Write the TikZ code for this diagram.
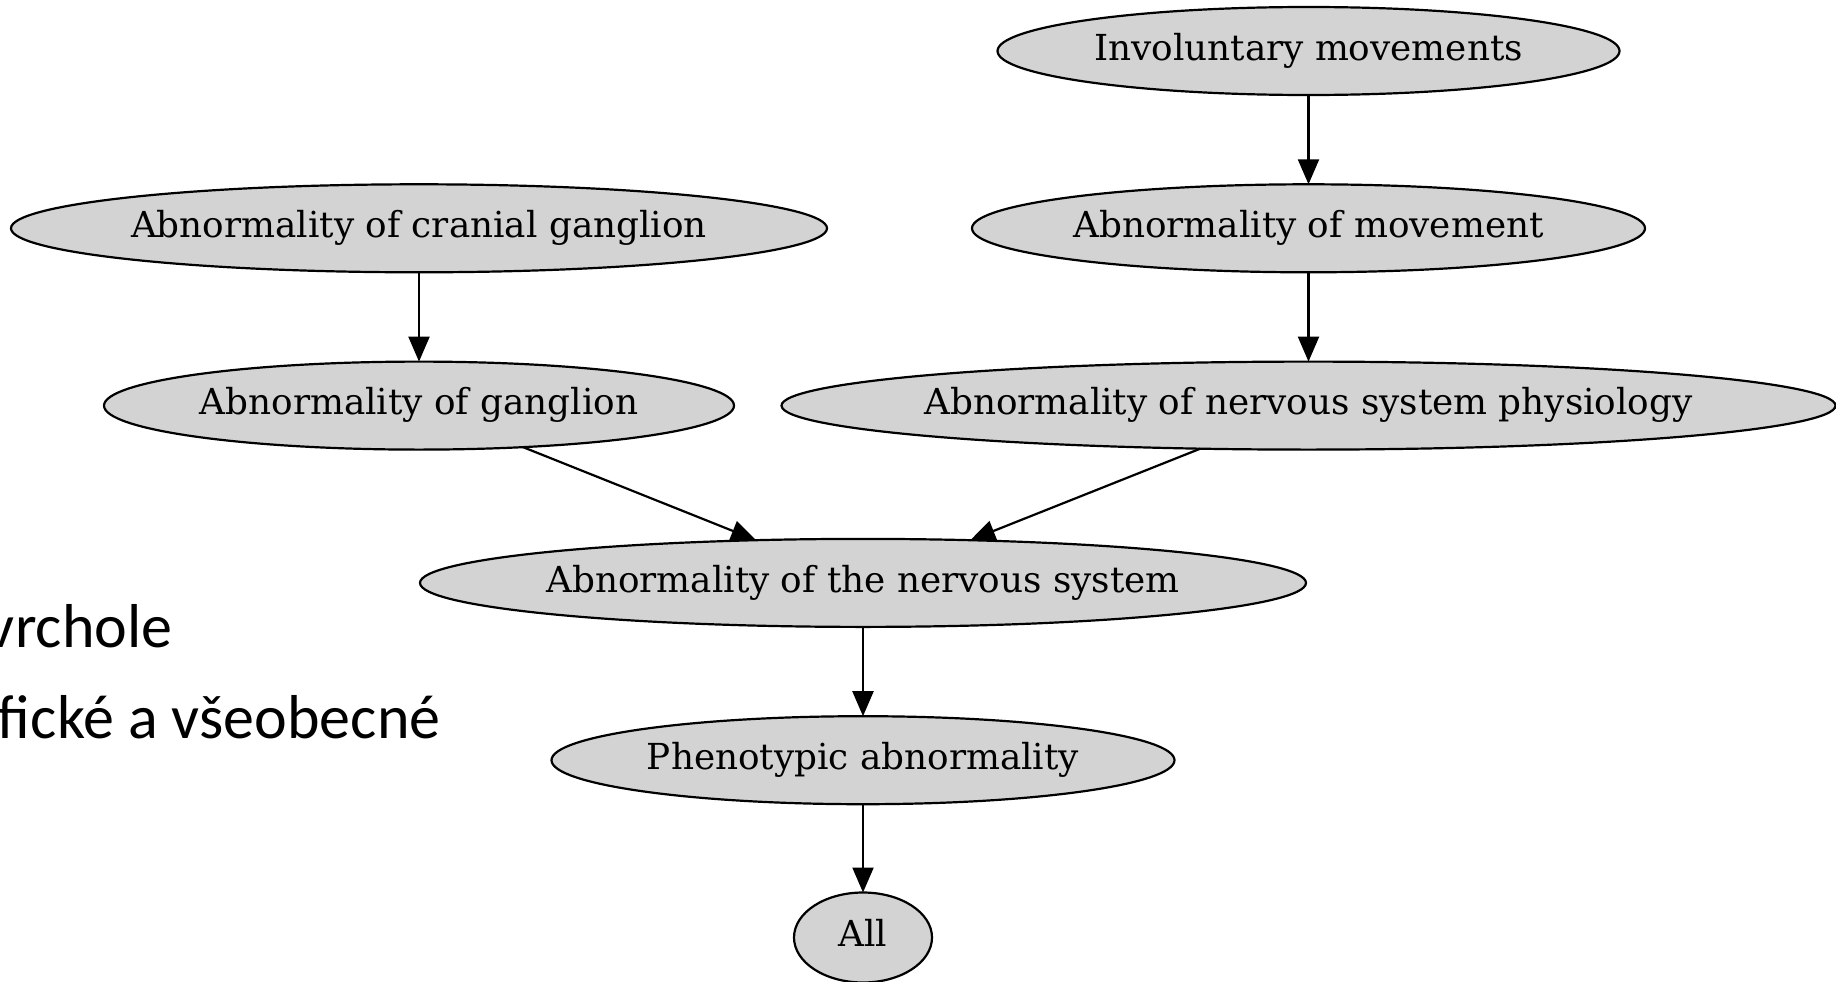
\documentclass[tikz,border=0pt]{standalone}
\usepackage{fontspec}
\setmainfont{DejaVu Serif}
\newfontfamily\slidefont{Carlito}
\usetikzlibrary{shapes.geometric,arrows.meta}
\definecolor{nodefill}{HTML}{D3D3D3}
\tikzset{
  gvnode/.style={ellipse, draw=black, line width=2.2pt, fill=nodefill,
    inner sep=0pt, outer sep=0pt, minimum height=88pt,
    font=\fontsize{35.8}{40}\selectfont, text height=27pt, text depth=8.5pt},
  gvedge/.style={draw=black, line width=2.2pt,
    -{Triangle[length=25pt,width=21pt]}},
  slidetext/.style={anchor=base west, inner sep=0pt, outer sep=0pt,
    font=\slidefont\fontsize{62}{70}\selectfont}
}
\begin{document}
\begin{tikzpicture}[x=1pt,y=-1pt]
\useasboundingbox (0,0) rectangle (1836,982);
\clip (0,0) rectangle (1836,982);
\fill[white] (0,0) rectangle (1836,982);
% slide text partly hidden behind the diagram
\node[slidetext] (t1) at (-13,647) {vrchole};
\node[slidetext] (t2) at (-2,738) {fické a všeobecné};
% nodes
\node[gvnode, minimum width=622pt] (inv) at (1308.5,51) {\makebox[0pt]{Involuntary movements}};
\node[gvnode, minimum width=816pt] (cran) at (419,228.3) {\makebox[0pt]{Abnormality of cranial ganglion}};
\node[gvnode, minimum width=673pt] (mov) at (1308.5,228.3) {\makebox[0pt]{Abnormality of movement}};
\node[gvnode, minimum width=630pt] (gang) at (419,405.6) {\makebox[0pt]{Abnormality of ganglion}};
\node[gvnode, minimum width=1054pt] (phys) at (1308.5,405.6) {\makebox[0pt]{Abnormality of nervous system physiology}};
\node[gvnode, minimum width=886pt] (nerv) at (863,582.9) {\makebox[0pt]{Abnormality of the nervous system}};
\node[gvnode, minimum width=623pt] (phen) at (863,760.2) {\makebox[0pt]{Phenotypic abnormality}};
\node[gvnode, minimum width=138pt, minimum height=90pt] (all) at (863,937.5) {\makebox[0pt]{All}};
% edges
\draw[gvedge] (inv) -- (mov);
\draw[gvedge] (cran) -- (gang);
\draw[gvedge] (mov) -- (phys);
\draw[gvedge] (gang) -- (nerv);
\draw[gvedge] (phys) -- (nerv);
\draw[gvedge] (nerv) -- (phen);
\draw[gvedge] (phen) -- (all);
\end{tikzpicture}
\end{document}
